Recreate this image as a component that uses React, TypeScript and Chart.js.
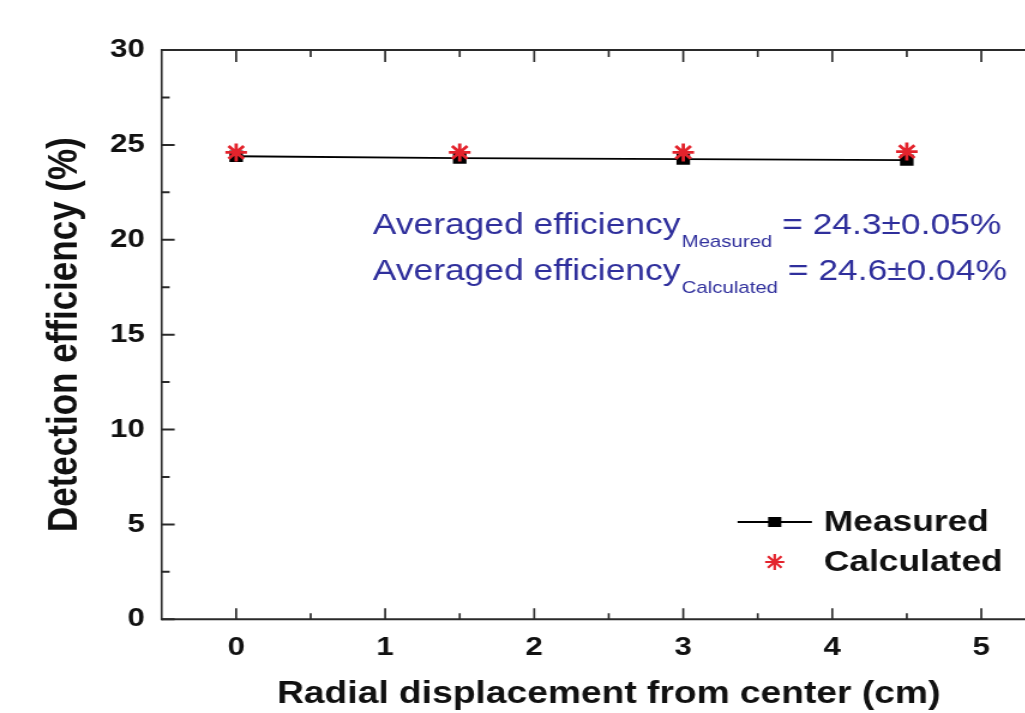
import React, { useEffect, useRef } from 'react';
import { Chart, registerables } from 'chart.js';

Chart.register(...registerables);

// ---- data ----
const displacement = [0, 1.5, 3, 4.5];
const measured = [24.4, 24.3, 24.25, 24.2];
const calculated = [24.6, 24.6, 24.6, 24.65];
const xTickValues = [0, 1, 2, 3, 4, 5];
const yTickValues = [0, 5, 10, 15, 20, 25, 30];
const legendLabels = ['Measured', 'Calculated'];
const annotationMain = ['Averaged efficiency', 'Averaged efficiency'];
const annotationSub = ['Measured', 'Calculated'];
const annotationValue = [' = 24.3\u00b10.05%', ' = 24.6\u00b10.04%'];
const xTitle = 'Radial displacement from center (cm)';
const yTitle = 'Detection efficiency (%)';

// ---- styles ----
const S = 1.2; // horizontal stretch of the picture
const CANVAS_W = 917;
const CANVAS_H = 713;
const FAMILY = "'Liberation Sans', Arial, Helvetica, sans-serif";
const RED = '#e3232c';
const BLUE = '#2f2f9c';
const AXIS = '#2a2a2a';

const framePlugin = {
  id: 'frameTicks',
  beforeDatasetsDraw(chart: any) {
    const { ctx, chartArea, scales } = chart;
    const { left, right, top, bottom } = chartArea;
    const xs = scales.x;
    const ys = scales.y;
    ctx.save();
    ctx.strokeStyle = AXIS;
    ctx.lineCap = 'butt';
    // frame
    ctx.lineWidth = 2;
    ctx.beginPath();
    ctx.moveTo(left, top);
    ctx.lineTo(right, top);
    ctx.moveTo(left, bottom);
    ctx.lineTo(right, bottom);
    ctx.stroke();
    ctx.lineWidth = 2 / S;
    ctx.beginPath();
    ctx.moveTo(left, top - 1);
    ctx.lineTo(left, bottom + 1);
    ctx.moveTo(right, top - 1);
    ctx.lineTo(right, bottom + 1);
    ctx.stroke();

    // x ticks (major + minor midpoints)
    const xMinor: number[] = [];
    for (let i = 0; i < xTickValues.length - 1; i++) xMinor.push((xTickValues[i] + xTickValues[i + 1]) / 2);
    ctx.lineWidth = 2 / S;
    ctx.beginPath();
    xTickValues.forEach((v) => {
      const p = xs.getPixelForValue(v);
      ctx.moveTo(p, bottom);
      ctx.lineTo(p, bottom - 11);
      ctx.moveTo(p, top);
      ctx.lineTo(p, top + 12);
    });
    xMinor.forEach((v) => {
      const p = xs.getPixelForValue(v);
      ctx.moveTo(p, bottom);
      ctx.lineTo(p, bottom - 6);
      ctx.moveTo(p, top);
      ctx.lineTo(p, top + 7);
    });
    ctx.stroke();

    // y ticks
    const yMinor: number[] = [];
    for (let i = 0; i < yTickValues.length - 1; i++) yMinor.push((yTickValues[i] + yTickValues[i + 1]) / 2);
    ctx.lineWidth = 2;
    ctx.beginPath();
    yTickValues.forEach((v) => {
      const p = ys.getPixelForValue(v);
      ctx.moveTo(left, p);
      ctx.lineTo(left + 13 / S, p);
      ctx.moveTo(right, p);
      ctx.lineTo(right - 13 / S, p);
    });
    yMinor.forEach((v) => {
      const p = ys.getPixelForValue(v);
      ctx.moveTo(left, p);
      ctx.lineTo(left + 8 / S, p);
      ctx.moveTo(right, p);
      ctx.lineTo(right - 8 / S, p);
    });
    ctx.stroke();
    ctx.restore();
  },
  afterDraw(chart: any) {
    const { ctx, chartArea } = chart;
    const { left, top } = chartArea;
    ctx.save();

    // annotation text
    const annX = left + (373 - 161.7) / S;
    const baselines = [top + 184, top + 230];
    annotationMain.forEach((main, i) => {
      let x = annX;
      const b = baselines[i];
      ctx.fillStyle = BLUE;
      ctx.textBaseline = 'alphabetic';
      ctx.textAlign = 'left';
      ctx.font = `29.5px ${FAMILY}`;
      ctx.fillText(main, x, b);
      x += ctx.measureText(main).width + 1;
      ctx.font = `17px ${FAMILY}`;
      ctx.fillText(annotationSub[i], x, b + 13);
      x += ctx.measureText(annotationSub[i]).width;
      ctx.font = `29.5px ${FAMILY}`;
      ctx.fillText(annotationValue[i], x, b);
    });

    // legend
    const dsM = chart.data.datasets[1];
    const dsC = chart.data.datasets[0];
    const symX = left + (775 - 161.7) / S;
    const textX = left + (824 - 161.7) / S;
    const rowY = [top + 472, top + 512];
    // measured symbol: line + square
    ctx.strokeStyle = dsM.borderColor;
    ctx.lineWidth = 2;
    ctx.beginPath();
    ctx.moveTo(symX - 31, rowY[0]);
    ctx.lineTo(symX + 31, rowY[0]);
    ctx.stroke();
    ctx.fillStyle = '#000';
    ctx.fillRect(symX - 5.5, rowY[0] - 5, 11, 10);
    // calculated symbol: asterisk
    ctx.strokeStyle = dsC.pointBorderColor;
    ctx.lineWidth = 2.2;
    const r = 8;
    ctx.beginPath();
    for (let k = 0; k < 4; k++) {
      const a = (k * Math.PI) / 4;
      ctx.moveTo(symX - r * Math.cos(a), rowY[1] - r * Math.sin(a));
      ctx.lineTo(symX + r * Math.cos(a), rowY[1] + r * Math.sin(a));
    }
    ctx.stroke();

    ctx.fillStyle = '#111';
    ctx.font = `bold 29.5px ${FAMILY}`;
    ctx.textBaseline = 'alphabetic';
    ctx.fillText(legendLabels[0], textX, rowY[0] + 9);
    ctx.fillText(legendLabels[1], textX, rowY[1] + 9);
    ctx.restore();
  },
};

export default function App() {
  const ref = useRef<HTMLCanvasElement>(null);

  useEffect(() => {
    const canvas = ref.current;
    if (!canvas) return;
    Chart.defaults.font.family = FAMILY;
    const chart = new Chart(canvas, {
      type: 'scatter',
      data: {
        datasets: [
          {
            label: legendLabels[1],
            data: displacement.map((x, i) => ({ x, y: calculated[i] })),
            order: 0,
            showLine: false,
            pointStyle: 'star',
            pointRadius: 9,
            pointHoverRadius: 9,
            pointBorderWidth: 2.8,
            borderColor: RED,
            backgroundColor: RED,
            pointBorderColor: RED,
            pointBackgroundColor: RED,
          },
          {
            label: legendLabels[0],
            data: displacement.map((x, i) => ({ x, y: measured[i] })),
            order: 1,
            showLine: true,
            borderColor: '#000',
            borderWidth: 1.8,
            pointStyle: 'rect',
            pointRadius: 8,
            pointHoverRadius: 8,
            pointBackgroundColor: '#000',
            pointBorderColor: '#000',
            pointBorderWidth: 0,
          },
        ],
      },
      options: {
        responsive: false,
        animation: false,
        devicePixelRatio: 1,
        events: [],
        layout: { padding: { left: 0, right: CANVAS_W - 1056.2 / S, top: 50, bottom: 0 } },
        plugins: { legend: { display: false }, tooltip: { enabled: false } },
        scales: {
          x: {
            type: 'linear',
            min: -0.5,
            max: 5.5,
            grid: { display: false, drawTicks: false },
            border: { display: false },
            afterBuildTicks: (scale: any) => {
              scale.ticks = xTickValues.map((v) => ({ value: v }));
            },
            afterFit: (scale: any) => {
              scale.height = CANVAS_H - 619.3;
            },
            ticks: {
              autoSkip: false,
              maxRotation: 0,
              padding: 13,
              color: '#111',
              font: { size: 26, weight: 'bold', family: FAMILY },
            },
            title: {
              display: true,
              text: xTitle,
              color: '#111',
              font: { size: 31, weight: 'bold', family: FAMILY, lineHeight: 1 },
              padding: { top: 0, bottom: 3 },
            },
          },
          y: {
            type: 'linear',
            min: 0,
            max: 30,
            grid: { display: false, drawTicks: false },
            border: { display: false },
            afterBuildTicks: (scale: any) => {
              scale.ticks = yTickValues.map((v) => ({ value: v }));
            },
            afterFit: (scale: any) => {
              scale.width = 161.7 / S;
            },
            ticks: {
              padding: 14,
              color: '#111',
              font: { size: 26, weight: 'bold', family: FAMILY },
            },
            title: {
              display: true,
              text: yTitle,
              color: '#111',
              font: { size: 35, weight: 'bold', family: FAMILY, lineHeight: 1 },
              padding: { top: 37, bottom: 0 },
            },
          },
        },
      },
      plugins: [framePlugin],
    } as any);
    return () => chart.destroy();
  }, []);

  return (
    <div
      style={{
        position: 'fixed',
        left: 0,
        top: 0,
        width: 1025,
        height: 713,
        overflow: 'hidden',
        background: '#fff',
      }}
    >
      <canvas
        ref={ref}
        width={CANVAS_W}
        height={CANVAS_H}
        style={{ width: `${CANVAS_W * S}px`, height: `${CANVAS_H}px`, display: 'block' }}
      />
    </div>
  );
}
